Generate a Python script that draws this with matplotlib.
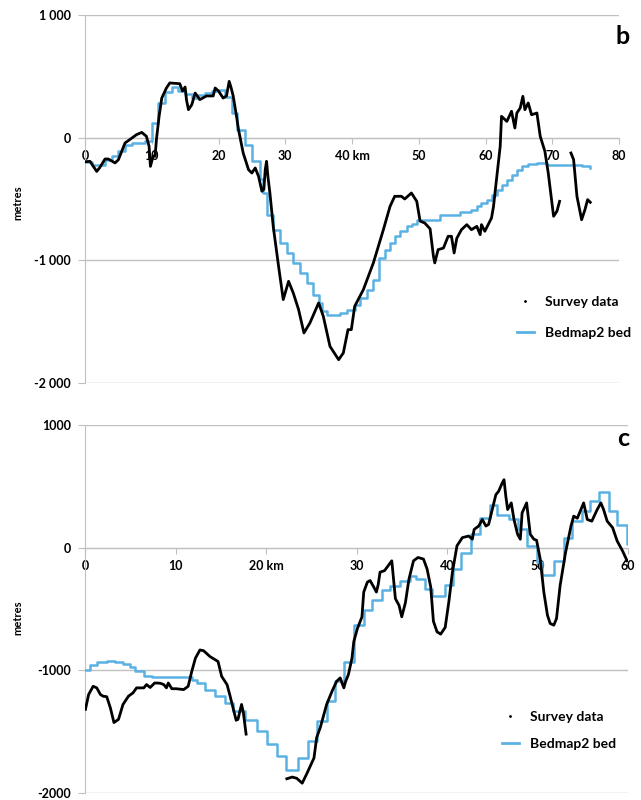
import numpy as np
import matplotlib.pyplot as plt
from matplotlib.lines import Line2D

W, H = 641, 800
NA = np.nan

# ---- panel b: survey bed (km along line, metres); NaN marks a gap in coverage
survey_b_km = [0.0, 0.75, 1.75, 2.2, 3.0, 3.5, 4.5, 5.0, 6.0, 6.7, 7.7, 8.5, 9.2, 9.6, 9.8,
               10.2, 10.5, 10.7, 11.1, 11.5, 12.2, 12.7, 14.2, 14.6, 15.0, 15.2, 15.5, 16.0,
               16.5, 17.2, 18.2, 19.2, 19.5, 20.0, 20.7, 21.2, 21.6, 21.9, 22.2, 22.7, 23.0,
               23.7, 24.5, 25.0, 25.5, 26.0, 26.5, 26.8, 27.0, 27.2, 27.4, 27.7, 28.2, 29.0,
               29.7, 30.5, 31.2, 32.0, 32.8, 33.7, 35.0, 35.7, 36.7, 38.0, 38.7, 39.4, 39.9,
               40.4, 41.7, 43.2, 44.7, 45.7, 46.4, 47.4, 47.9, 48.9, 49.7, 50.2, 50.9, 51.7,
               52.2, 52.4, 52.9, 53.7, 54.4, 54.9, 55.3, 55.7, 56.4, 57.2, 57.9, 58.7, 59.2,
               59.4, 59.9, 60.9, 61.2, 61.7, 62.2, 62.4, 63.2, 63.9, 64.4, 64.7, 65.2, 65.6,
               65.9, 66.4, 66.9, 67.7, 68.2, 68.9, 69.4, 70.2, 70.7, 71.1, 72.0, 72.8, 73.2,
               73.7, 74.4, 74.9, 75.3, 75.7]
survey_b_m = [-196, -193, -275, -245, -174, -174, -206, -180, -43, -16, 24, 43, 11, -71, -234,
              -150, -152, -16, 174, 323, 405, 446, 440, 380, 413, 310, 228, 269,
              364, 310, 340, 340, 405, 380, 323, 340, 459, 405, 340, 174, 65,
              -125, -261, -288, -247, -315, -437, -420, -261, -193, -315, -451, -723, -1049,
              -1320, -1171, -1266, -1402, -1592, -1510, -1347, -1456, -1701, -1810, -1755, -1565, -1565,
              -1375, -1239, -1021, -750, -560, -478, -478, -500, -451, -519, -680, -696, -743,
              -967, -1021, -913, -900, -804, -804, -940, -820, -750, -709, -750, -723, -791,
              -709, -763, -655, -560, -315, -71, 174, 133, 215, 79, 201, 242, 337,
              228, 283, 187, 201, 11, -112, -288, -641, -600, -519, NA, -125, -179,
              -478, -669, -587, -505, -527]

# Bedmap2 bed along line b: left edge of each grid cell crossed, and its elevation
bed_b_km = [0, 1, 2, 3, 4, 5, 6, 7, 8, 9, 10, 11, 12, 13, 14, 15, 16, 17, 18, 19, 20, 21, 22,
            22.7, 24.0, 25.0, 26.2, 26.7, 27.2, 28.2, 29.2, 30.2, 31.2, 32.2, 33.2, 34.2, 35.0,
            35.5, 36.2, 38.2, 39.2, 40.5, 41.2, 42.2, 43.2, 44.0, 45.0, 45.7, 46.5, 47.2, 48.2,
            49.0, 49.7, 53.2, 56.2, 57.9, 58.7, 59.4, 60.2, 60.9, 61.7, 62.4, 63.2, 63.9, 64.7,
            65.4, 66.4, 67.7, 69.2, 71.0, 73.0, 74.5, 75.7]
bed_b_m = [-200, -225, -220, -180, -150, -110, -60, -45, -40, -30, 120, 280, 370, 410, 380, 360,
           320, 350, 365, 380, 390, 330, 200,
           65, -57, -193, -340, -451, -628, -750, -859, -940, -1022, -1103, -1184, -1280, -1348,
           -1415, -1443, -1429, -1402, -1361, -1307, -1239, -1157, -981, -913, -859, -804, -763, -723,
           -700, -669, -628, -610, -587, -560, -533, -505, -465, -424, -383, -342, -301, -261,
           -234, -215, -205, -225, -225, -220, -230, -250]

# ---- panel c
survey_c_km = [0.05, 0.4, 0.9, 1.3, 1.7, 2.0, 2.4, 2.8, 3.2, 3.7, 4.2, 4.8, 5.3, 5.7, 6.5, 6.8,
               7.2, 7.7, 8.3, 8.7, 9.0, 9.2, 9.6, 10.1, 10.9, 11.4, 11.8, 12.2, 12.7, 13.1, 13.8,
               14.7, 15.1, 15.7, 16.0, 16.4, 16.7, 16.9, 17.3, 17.5, 17.8, 20.0,
               22.3, 22.9, 23.4, 24.0, 24.5, 25.3, 25.6, 26.0, 26.7, 27.3, 27.8, 28.2, 28.6, 28.8,
               29.1, 29.5, 29.7, 30.1, 30.6, 30.8, 31.2, 31.5, 31.9, 32.2, 32.4, 32.6, 33.1, 33.9,
               34.3, 34.7, 35.0, 35.4, 35.8, 36.3, 36.8, 37.4, 37.8, 38.2, 38.5, 38.9, 39.3, 39.8,
               40.2, 40.6, 41.1, 41.7, 42.4, 42.8, 43.0, 43.5, 43.9, 44.3, 44.6, 45.0, 45.4, 45.7,
               46.1, 46.3, 46.5, 46.7, 47.1, 47.4, 47.8, 48.1, 48.3, 48.8, 48.9, 49.2, 49.6, 49.9,
               50.3, 50.7, 51.1, 51.4, 51.8, 52.1, 52.5, 53.1, 53.7, 54.0, 54.4, 54.8, 55.1, 55.5,
               56.0, 56.6, 57.0, 57.3, 57.7, 58.3, 58.8, 59.4, 59.9]
survey_c_m = [-1318, -1197, -1130, -1143, -1197, -1211, -1215, -1305, -1426, -1400, -1278, -1211,
              -1184, -1143, -1143, -1116, -1140, -1103, -1105, -1116, -1143, -1103, -1150, -1150,
              -1157, -1130, -1008, -901, -834, -840, -887, -928, -1049, -1117, -1200, -1318, -1407,
              -1400, -1278, -1345, -1520, NA,
              -1884, -1870, -1880, -1920, -1844, -1715, -1547, -1466, -1278, -1170, -1090, -1062,
              -1143, -1090, -1036, -901, -766, -659, -565, -362, -281, -268, -320, -362, -300, -200,
              -187, -107, -416, -470, -564, -450, -255, -107, -80, -93, -174, -320, -600, -686,
              -705, -650, -443, -200, 15, 82, 95, 69, 149, 176, 230, 176, 190, 311, 432, 459,
              527, 554, 419, 311, 365, 230, 109, 69, 284, 365, 300, 109, 69, 60,
              -93, -362, -551, -618, -632, -578, -308, -39, 176, 257, 240, 311, 365, 230,
              216, 311, 365, 311, 216, 163, 55, -27, -107]

bed_c_km = [0.0, 0.6, 1.3, 2.4, 3.3, 4.2, 5.0, 5.5, 6.5, 7.4, 11.8, 12.4, 13.3, 14.4, 15.5, 16.4,
            17.7, 19.0, 20.1, 21.2, 22.2, 23.5, 24.6, 25.6, 26.7, 27.6, 28.6, 29.7, 30.8, 31.7,
            32.8, 33.7, 34.8, 35.9, 36.6, 37.6, 38.3, 39.8, 40.7, 41.5, 42.6, 43.7, 44.8, 45.5,
            46.8, 47.9, 48.8, 49.9, 50.5, 51.8, 52.9, 53.8, 54.9, 55.8, 56.8, 57.9, 58.8, 59.9, 60.0]
bed_c_m = [-995, -960, -928, -922, -933, -949, -974, -1009, -1049, -1057, -1076, -1103, -1157,
           -1211, -1265, -1332, -1407, -1494, -1601, -1695, -1810, -1715, -1574, -1413, -1251,
           -1090, -928, -632, -511, -430, -349, -309, -268, -233, -255, -341, -390, -308, -175,
           -40, 108, 240, 345, 270, 235, 149, 14, -120, -222, -106, 82, 217, 301, 378, 451, 301,
           182, 28, 28]

yticks = [-2000, -1000, 0, 1000]
b_yticklabels = ["-2 000", "-1 000", "0", "1 000"]
c_yticklabels = ["-2000", "-1000", "0", "1000"]
b_xticks = [0, 10, 20, 30, 40, 50, 60, 70, 80]
b_xticklabels = ["0", "10", "20", "30", "40 km", "50", "60", "70", "80"]
c_xticks = [0, 10, 20, 30, 40, 50, 60]
c_xticklabels = ["0", "10", "20 km", "30", "40", "50", "60"]

BLUE = "#5bb1e3"
GRID = "#c0c0c0"
plt.rcParams["font.family"] = ["Lato", "DejaVu Sans"]
plt.rcParams["font.weight"] = "bold"


def px_box(left, top, right, bottom):
    return [left / W, 1 - bottom / H, (right - left) / W, (bottom - top) / H]


def draw_panel(ax, xmax, xticks, xlabels, ylabels, skm, sm, bkm, bm):
    ax.plot(bkm, bm, color=BLUE, lw=1.8, drawstyle="steps-post", zorder=3)
    ax.plot(skm, sm, color="black", lw=2.0, zorder=4)
    ax.set_xlim(0, xmax)
    ax.set_ylim(-2000, 1000)
    ax.set_yticks(yticks)
    ax.set_yticklabels(ylabels)
    ax.set_xticks(xticks)
    ax.set_xticklabels(xlabels)
    ax.grid(axis="y", color=GRID, lw=1)
    ax.grid(axis="x", visible=False)
    for s in ("top", "right"):
        ax.spines[s].set_visible(False)
    ax.spines["left"].set_color(GRID)
    ax.spines["bottom"].set_color(GRID)
    ax.spines["bottom"].set_position(("data", 0))
    ax.tick_params(axis="y", length=5, color=GRID, pad=5, labelsize=9)
    ax.tick_params(axis="x", length=4, color=GRID, pad=5, labelsize=9)
    ax.set_axisbelow(True)


def add_legend(ax, left, top, spacing):
    handles = [Line2D([], [], color="black", marker=".", ls="none", markersize=2),
               Line2D([], [], color=BLUE, lw=2)]
    ax.legend(handles, ["Survey data", "Bedmap2 bed"], loc="upper left",
              bbox_to_anchor=(left / W, 1 - top / H), bbox_transform=fig.transFigure,
              frameon=False, borderpad=0, fontsize=10, handlelength=1.22,
              handletextpad=0.8, labelspacing=spacing)


fig = plt.figure(figsize=(W / 100, H / 100), dpi=100)

ax_b = fig.add_axes(px_box(85, 15, 619, 383))
draw_panel(ax_b, 80, b_xticks, b_xticklabels, b_yticklabels,
           survey_b_km, survey_b_m, bed_b_km, bed_b_m)
add_legend(ax_b, 510, 289, 1.37)
fig.text(623 / W, 1 - 36 / H, "b", fontsize=18, fontweight="bold", ha="center", va="center")
fig.text(18 / W, 1 - 203 / H, "metres", fontsize=8, rotation=90, ha="center", va="center")

ax_c = fig.add_axes(px_box(85, 425, 628, 793))
draw_panel(ax_c, 60, c_xticks, c_xticklabels, c_yticklabels,
           survey_c_km, survey_c_m, bed_c_km, bed_c_m)
add_legend(ax_c, 495, 704, 1.09)
fig.text(623 / W, 1 - 438 / H, "c", fontsize=18, fontweight="bold", ha="center", va="center")
fig.text(18 / W, 1 - 618 / H, "metres", fontsize=8, rotation=90, ha="center", va="center")

fig.savefig("out.png", dpi=100, facecolor="white")
